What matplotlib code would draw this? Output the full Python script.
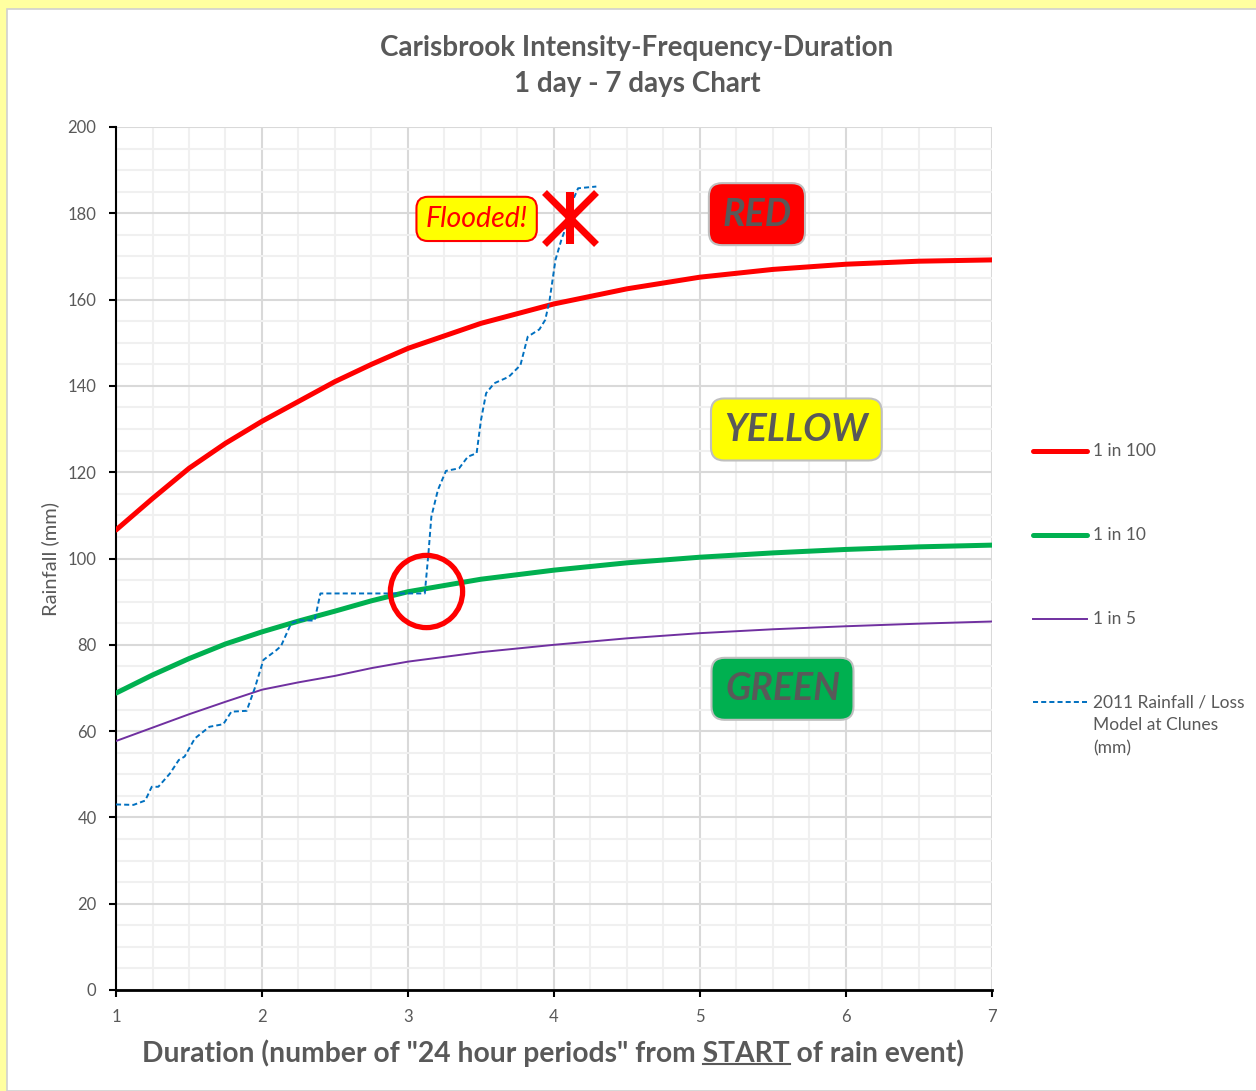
import numpy as np
import matplotlib
matplotlib.use("Agg")
import matplotlib.pyplot as plt
from matplotlib.lines import Line2D
from matplotlib.patches import Rectangle
from matplotlib.ticker import MultipleLocator

plt.rcParams['font.family'] = ['Lato', 'DejaVu Sans']

GREY = '#595959'

# IFD design curves (mm) against duration in days
days = [1, 1.25, 1.5, 1.75, 2, 2.25, 2.5, 2.75, 3, 3.5, 4, 4.5, 5, 5.5, 6, 6.5, 7]
ifd_100 = [106.6, 113.9, 120.9, 126.7, 131.8, 136.4, 141.0, 145.0, 148.7,
           154.5, 159.0, 162.5, 165.2, 167.0, 168.2, 168.9, 169.2]
ifd_10 = [68.8, 73.0, 76.8, 80.2, 83.0, 85.5, 87.8, 90.2, 92.3,
          95.2, 97.3, 99.0, 100.3, 101.3, 102.1, 102.7, 103.1]
ifd_5 = [57.7, 60.8, 63.9, 66.8, 69.6, 71.3, 72.8, 74.6, 76.1,
         78.3, 80.0, 81.5, 82.7, 83.6, 84.3, 84.9, 85.4]

# 2011 event, cumulative rainfall from the loss model at Clunes
rain_day = [1.0, 1.12, 1.20, 1.245, 1.29, 1.37, 1.43, 1.47, 1.54, 1.64, 1.735, 1.79, 1.895,
            1.95, 2.01, 2.10, 2.13, 2.20, 2.26, 2.36, 2.40, 3.115, 3.14, 3.16, 3.205, 3.26,
            3.35, 3.41, 3.47, 3.50, 3.535, 3.59, 3.69, 3.77, 3.82, 3.90, 3.94, 3.97, 4.01,
            4.05, 4.075, 4.12, 4.165, 4.29]
rain_mm = [43.0, 42.9, 43.9, 47.1, 47.1, 50.2, 53.3, 54.1, 58.3, 61.0, 61.6, 64.5, 64.7,
           69.9, 76.5, 78.8, 79.7, 85.0, 85.7, 85.6, 91.9, 91.9, 101.2, 109.7, 115.9, 120.3,
           120.9, 123.6, 124.4, 132.1, 138.3, 140.6, 142.1, 144.8, 151.4, 153.1, 155.3, 159.9,
           169.2, 173.8, 176.1, 182.3, 185.8, 186.2]

crossing = (3.125, 92.5)
flood_point = (4.11, 179)

series_labels = ['1 in 100', '1 in 10', '1 in 5', '2011 Rainfall / Loss\nModel at Clunes\n(mm)']

W, H = 1256, 1091
fig = plt.figure(figsize=(W / 100, H / 100), dpi=100, facecolor='#FFFFA0')
fig.add_artist(Rectangle((7 / W, 0), 1, 1 - 9 / H, transform=fig.transFigure,
                         facecolor='white', edgecolor='#D0D0D0', lw=1.2, zorder=0))

ax = fig.add_axes([116 / W, 101 / H, 876 / W, 863 / H])
ax.set_facecolor('white')
ax.set_xlim(1, 7)
ax.set_ylim(0, 200)
ax.xaxis.set_major_locator(MultipleLocator(1))
ax.xaxis.set_minor_locator(MultipleLocator(0.25))
ax.yaxis.set_major_locator(MultipleLocator(20))
ax.yaxis.set_minor_locator(MultipleLocator(5))
ax.grid(which='major', color='#D9D9D9', lw=1.5, zorder=0)
ax.grid(which='minor', color='#F0F0F0', lw=1.5, zorder=0)
ax.set_axisbelow(True)
for s in ['top', 'right']:
    ax.spines[s].set_visible(False)
ax.spines['left'].set_linewidth(1.5)
ax.spines['bottom'].set_linewidth(2)
ax.tick_params(which='major', length=5, width=1.5, color='black', labelcolor=GREY,
               labelsize=12)
ax.tick_params(axis='y', pad=9)
ax.tick_params(axis='x', pad=9)
ax.tick_params(which='minor', length=0)

ax.plot(days, ifd_100, color='#FF0000', lw=3.6, solid_capstyle='round', zorder=3)
ax.plot(days, ifd_10, color='#00B050', lw=3.6, solid_capstyle='round', zorder=3)
ax.plot(days, ifd_5, color='#7030A0', lw=1.4, zorder=3)
ax.plot(rain_day, rain_mm, color='#0070C0', lw=1.4, dashes=(2.6, 1.6), zorder=4)

ax.plot(*crossing, marker='o', ms=52, mfc='none', mec='#FF0000', mew=3.8, zorder=5)
ax.plot(*flood_point, marker='x', ms=38, mec='#FF0000', mew=5, zorder=5)
ax.plot(*flood_point, marker='|', ms=38, mec='#FF0000', mew=5.8, zorder=5)

box_kw = dict(ha='center', va='center', fontsize=27, fontweight='bold', style='italic',
              color=GREY, zorder=6)
box_style = 'round,pad=0.36,rounding_size=0.35'
ax.text(5.39, 179.8, 'RED', **box_kw,
        bbox=dict(boxstyle=box_style, fc='#FF0000', ec='#BFBFBF', lw=1.5))
ax.text(5.66, 129.9, 'YELLOW', **box_kw,
        bbox=dict(boxstyle=box_style, fc='#FFFF00', ec='#BFBFBF', lw=1.5))
ax.text(5.565, 69.8, 'GREEN', **box_kw,
        bbox=dict(boxstyle=box_style, fc='#00B050', ec='#BFBFBF', lw=1.5))
ax.text(3.47, 178.7, 'Flooded!', ha='center', va='center', fontsize=20.5, style='italic',
        color='#FF0000', zorder=6,
        bbox=dict(boxstyle='round,pad=0.32,rounding_size=0.4', fc='#FFFF00', ec='#FF0000', lw=1.5))

ax.set_ylabel('Rainfall (mm)', fontsize=14.5, color=GREY, labelpad=6)

fig.text(637 / W, 1 - 66 / H, 'Carisbrook Intensity-Frequency-Duration\n1 day - 7 days Chart',
         ha='center', va='center', fontsize=20, fontweight='bold', color=GREY,
         linespacing=1.5)

# legend drawn by hand so the handle sits on the first line of a wrapped label
leg_styles = [dict(color='#FF0000', lw=3.6, solid_capstyle='round'),
              dict(color='#00B050', lw=3.6, solid_capstyle='round'),
              dict(color='#7030A0', lw=1.4),
              dict(color='#0070C0', lw=1.4, dashes=(2.6, 1.6))]
leg_y = [451, 535, 619, 702]
leg_texts = []
for lab, st, yy in zip(series_labels, leg_styles, leg_y):
    fy = 1 - yy / H
    fig.add_artist(Line2D([1033 / W, 1087 / W], [fy, fy], transform=fig.transFigure, **st))
    leg_texts.append(fig.text(1093 / W, fy, lab, ha='left', va='top', fontsize=12.5,
                              color=GREY, linespacing=1.55))

# shift legend texts so the first line is centred on its handle
fig.canvas.draw()
r = fig.canvas.get_renderer()
probe = fig.text(0, 0, 'Mg', fontsize=12.5)
h1 = probe.get_window_extent(r).height
probe.remove()
for t in leg_texts:
    x, y = t.get_position()
    t.set_position((x, y + (h1 / 2) / H))

# x axis title with START underlined
xl_pre = 'Duration (number of "24 hour periods" from '
xl_key = 'START'
xl_post = ' of rain event)'
xl_kw = dict(fontsize=20.3, fontweight='bold', color=GREY)
xt = fig.text(553 / W, 1 - 1053 / H, xl_pre + xl_key + xl_post, ha='center', va='center', **xl_kw)
fig.canvas.draw()
full = xt.get_window_extent(r)
p1 = fig.text(0, 0, xl_pre + xl_key, **xl_kw)
p2 = fig.text(0, 0, xl_key, **xl_kw)
w_upto = p1.get_window_extent(r).width
w_key = p2.get_window_extent(r).width
p1.remove()
p2.remove()
x_end = full.x0 + w_upto
x_start = x_end - w_key
y_ul = full.y0 + 2.5
fig.add_artist(Line2D([x_start / W, x_end / W], [y_ul / H, y_ul / H],
                      transform=fig.transFigure, color=GREY, lw=1.5))

fig.savefig('out.png', dpi=100, facecolor=fig.get_facecolor())
